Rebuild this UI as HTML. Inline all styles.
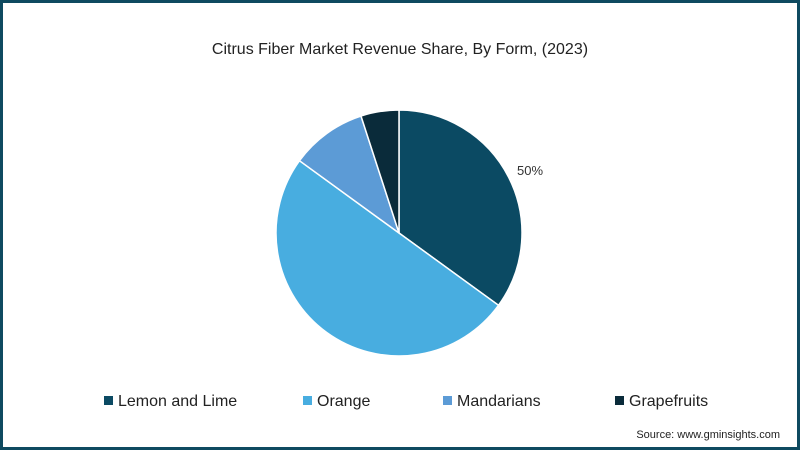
<!DOCTYPE html>
<html><head><meta charset="utf-8"><style>
body{margin:0;width:800px;height:450px;overflow:hidden;font-family:"Liberation Sans",sans-serif}
#frame{position:absolute;left:0;top:0;width:794px;height:444px;border:3px solid #0e4a60;background:#fff}
</style></head><body>
<div id="frame">
<svg id="chart" width="794" height="444">
<text x="397" y="51" text-anchor="middle" font-size="16" fill="#222">Citrus Fiber Market Revenue Share, By Form, (2023)</text>
<g id="slices"></g>
<text x="527" y="172" text-anchor="middle" font-size="13" fill="#333">50%</text>
<g id="legend"></g>
<text x="777" y="435" text-anchor="end" font-size="11" fill="#222">Source: www.gminsights.com</text>
</svg></div>
<script>
const categories=["Lemon and Lime","Orange","Mandarians","Grapefruits"];
const values=[35,50,10,5];
const colors=["#0b4a63","#48ade0","#5c9bd6","#0a2b3a"];
const cx=396,cy=230,r=123;
const ns="http://www.w3.org/2000/svg";
const total=values.reduce((a,b)=>a+b,0);
let a=0;const g=document.getElementById('slices');
values.forEach((v,i)=>{
 const a2=a+v/total*2*Math.PI;
 const x1=cx+r*Math.sin(a),y1=cy-r*Math.cos(a),x2=cx+r*Math.sin(a2),y2=cy-r*Math.cos(a2);
 const p=document.createElementNS(ns,'path');
 p.setAttribute('d',`M${cx},${cy}L${x1},${y1}A${r},${r} 0 ${a2-a>Math.PI?1:0} 1 ${x2},${y2}Z`);
 p.setAttribute('fill',colors[i]);p.setAttribute('stroke','#fff');p.setAttribute('stroke-width','1.5');
 
 
 g.appendChild(p);a=a2;
});
const lx=[101,300,440,612];
const lg=document.getElementById('legend');
categories.forEach((c,i)=>{
 const s=document.createElementNS(ns,'rect');
 s.setAttribute('x',lx[i]);s.setAttribute('y',393);s.setAttribute('width',9);s.setAttribute('height',9);s.setAttribute('fill',colors[i]);
 
 
 lg.appendChild(s);
 const t=document.createElementNS(ns,'text');
 t.setAttribute('x',lx[i]+14);t.setAttribute('y',403);t.setAttribute('font-size','16');t.setAttribute('fill','#222');
 t.textContent=c;
 
 
 lg.appendChild(t);
});
</script>
</body></html>
